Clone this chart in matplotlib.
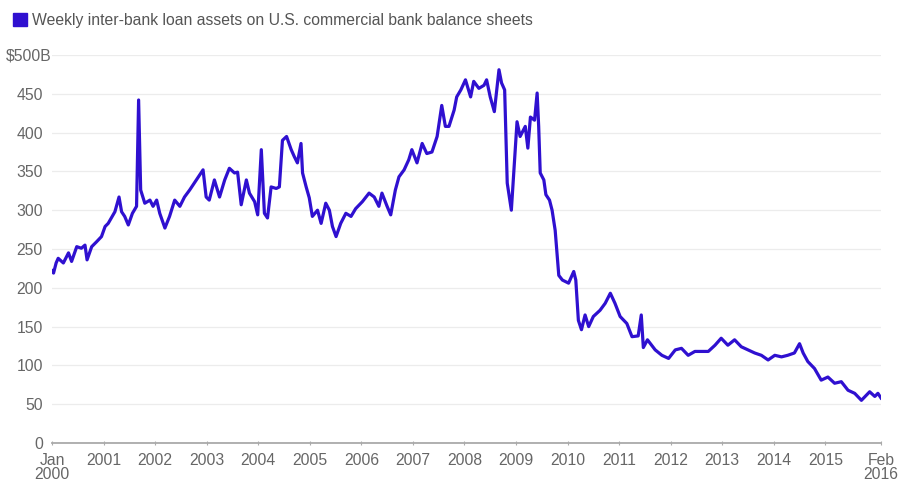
import matplotlib
matplotlib.use("Agg")
import matplotlib.pyplot as plt
from matplotlib.patches import Patch
from matplotlib.transforms import ScaledTranslation

# decimal year of each reading, and the loan assets in $ billions
years = [
    2000.00, 2000.03, 2000.08, 2000.12, 2000.22, 2000.32, 2000.38, 2000.48, 2000.57, 2000.64,
    2000.68, 2000.77, 2000.86, 2000.96, 2001.03, 2001.09, 2001.15, 2001.22, 2001.30, 2001.35,
    2001.41, 2001.48, 2001.56, 2001.64, 2001.68, 2001.72, 2001.80, 2001.90, 2001.96, 2002.03,
    2002.09, 2002.19, 2002.28, 2002.38, 2002.48, 2002.57, 2002.67, 2002.80, 2002.93, 2002.99,
    2003.05, 2003.15, 2003.25, 2003.35, 2003.44, 2003.54, 2003.60, 2003.67, 2003.77, 2003.83,
    2003.93, 2003.99, 2004.06, 2004.12, 2004.18, 2004.25, 2004.35, 2004.41, 2004.47, 2004.55,
    2004.64, 2004.70, 2004.76, 2004.83, 2004.86, 2004.93, 2004.99, 2005.05, 2005.15, 2005.22,
    2005.31, 2005.38, 2005.44, 2005.51, 2005.60, 2005.70, 2005.80, 2005.89, 2006.02, 2006.15,
    2006.25, 2006.34, 2006.40, 2006.50, 2006.57, 2006.66, 2006.73, 2006.83, 2006.92, 2006.98,
    2007.08, 2007.18, 2007.27, 2007.37, 2007.47, 2007.56, 2007.63, 2007.70, 2007.80, 2007.85,
    2007.93, 2008.02, 2008.12, 2008.18, 2008.28, 2008.38, 2008.43, 2008.50, 2008.58, 2008.67,
    2008.72, 2008.78, 2008.83, 2008.91, 2008.99, 2009.02, 2009.08, 2009.18, 2009.23, 2009.28,
    2009.36, 2009.41, 2009.44, 2009.47, 2009.54, 2009.58, 2009.65, 2009.70, 2009.76, 2009.83,
    2009.90, 2010.02, 2010.12, 2010.16, 2010.21, 2010.27, 2010.34, 2010.41, 2010.50, 2010.63,
    2010.73, 2010.83, 2010.92, 2011.02, 2011.15, 2011.25, 2011.37, 2011.43, 2011.47, 2011.55,
    2011.70, 2011.83, 2011.96, 2012.09, 2012.21, 2012.34, 2012.47, 2012.60, 2012.73, 2012.86,
    2012.98, 2013.11, 2013.24, 2013.37, 2013.50, 2013.63, 2013.76, 2013.89, 2014.02, 2014.15,
    2014.27, 2014.40, 2014.50, 2014.57, 2014.66, 2014.79, 2014.92, 2015.05, 2015.18, 2015.31,
    2015.44, 2015.57, 2015.70, 2015.80, 2015.86, 2015.96, 2016.02, 2016.08,
]
assets = [
    222, 219, 232, 238, 232, 245, 234, 253, 251, 255,
    236, 253, 259, 266, 279, 283, 290, 298, 317, 298,
    292, 281, 296, 305, 442, 326, 309, 313, 305, 313,
    296, 277, 292, 313, 305, 317, 326, 339, 352, 317,
    313, 339, 317, 339, 354, 348, 349, 307, 339, 322,
    311, 294, 378, 296, 290, 330, 328, 330, 390, 395,
    378, 369, 361, 386, 348, 330, 316, 292, 300, 283,
    309, 300, 279, 266, 283, 296, 292, 302, 311, 322,
    317, 305, 322, 305, 294, 326, 343, 352, 365, 378,
    361, 386, 373, 375, 395, 435, 408, 408, 429, 446,
    455, 468, 446, 466, 457, 461, 468, 446, 427, 481,
    464, 455, 335, 300, 382, 414, 395, 408, 380, 420,
    416, 451, 408, 348, 339, 320, 313, 300, 274, 216,
    210, 206, 221, 210, 158, 146, 165, 150, 163, 171,
    180, 193, 180, 163, 154, 137, 138, 165, 123, 133,
    120, 113, 109, 120, 122, 113, 118, 118, 118, 126,
    135, 126, 133, 124, 120, 116, 113, 107, 113, 111,
    113, 116, 128, 116, 105, 96, 81, 85, 77, 79,
    68, 64, 55, 62, 66, 60, 64, 58,
]

x_ticks = [2000, 2001, 2002, 2003, 2004, 2005, 2006, 2007, 2008,
           2009, 2010, 2011, 2012, 2013, 2014, 2015, 2016.08]
x_labels = ["Jan\n2000", "2001", "2002", "2003", "2004", "2005", "2006", "2007", "2008",
            "2009", "2010", "2011", "2012", "2013", "2014", "2015", "Feb\n2016"]
y_ticks = [0, 50, 100, 150, 200, 250, 300, 350, 400, 450, 500]
y_labels = ["0", "50", "100", "150", "200", "250", "300", "350", "400", "450", "$500B"]

title = "Weekly inter-bank loan assets on U.S. commercial bank balance sheets"
line_color = "#2f10d0"
text_color = "#666666"

plt.rcParams["font.family"] = ["Liberation Sans", "DejaVu Sans"]

fig = plt.figure(figsize=(9.01, 4.82), dpi=100)
ax = fig.add_axes([52 / 901, 39 / 482, 829 / 901, 388 / 482])

ax.plot(years, assets, color=line_color, linewidth=2.3, solid_joinstyle="round")

ax.set_xlim(2000, 2016.08)
ax.set_ylim(0, 500)
ax.set_xticks(x_ticks)
ax.set_xticklabels(x_labels, linespacing=0.9)
ax.set_yticks(y_ticks)
ax.set_yticklabels(y_labels)

# only horizontal grid and a grey baseline
for s in ["top", "right", "left"]:
    ax.spines[s].set_visible(False)
ax.spines["bottom"].set_color("#aaaaaa")
ax.spines["bottom"].set_linewidth(1.3)
ax.grid(axis="y", color="#ececec", linewidth=0.9)
ax.set_axisbelow(True)
ax.tick_params(axis="y", length=0, pad=6.5, labelsize=11.3, labelcolor=text_color)
ax.tick_params(axis="x", length=3, direction="inout", color="#aaaaaa",
               pad=6, labelsize=11.3, labelcolor=text_color)

# the unit "B" hangs past the column of numbers
top_label = ax.get_yticklabels()[-1]
top_label.set_transform(top_label.get_transform() + ScaledTranslation(0.09, 0, fig.dpi_scale_trans))

fig.legend(handles=[Patch(color=line_color)], labels=[title], loc="upper left",
           bbox_to_anchor=(0.0, 1.0), frameon=False, handlelength=0.95,
           handleheight=0.95, handletextpad=0.3, fontsize=11.3, labelcolor="#555555",
           borderaxespad=0.4)

fig.savefig("out.png", dpi=100)
